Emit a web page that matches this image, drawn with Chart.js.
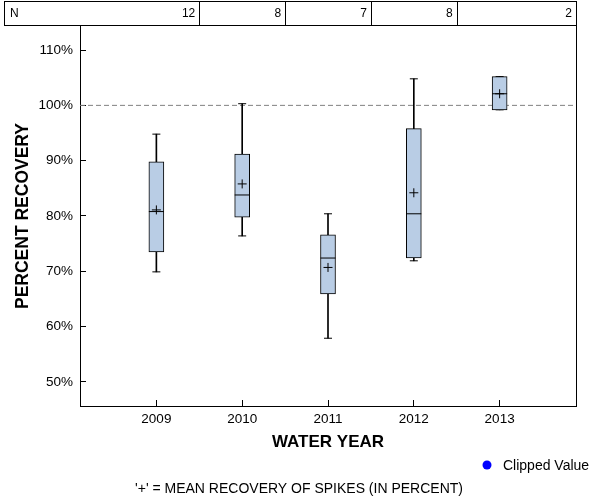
<!DOCTYPE html>
<html>
<head>
<meta charset="utf-8">
<script src="https://cdn.jsdelivr.net/npm/chart.js@4.4.1/dist/chart.umd.min.js"></script>
<style>
  html, body { margin: 0; padding: 0; background: #fff; }
</style>
</head>
<body>
<canvas id="boxChart" width="600" height="500"></canvas>
<script>
// Box plot values (percent recovery)
const years = [2009, 2010, 2011, 2012, 2013];
const nCounts = [12, 8, 7, 8, 2];
const whiskerLow = [69.9, 76.4, 57.9, 71.9, 99.2];
const q1 = [73.5, 79.8, 65.9, 72.4, 99.2];
const median = [80.8, 83.8, 72.4, 80.4, 102.1];
const mean = [81.1, 85.8, 70.7, 84.2, 102.1];
const q3 = [89.8, 91.2, 76.6, 95.8, 105.2];
const whiskerHigh = [94.8, 100.3, 80.4, 104.8, 105.2];
const yTicks = [50, 60, 70, 80, 90, 100, 110];
const referenceLine = 100;

const FONT = '"Liberation Sans", Arial, sans-serif';
const boxFill = '#b9cde5';

const xMin = 2008.11, xMax = 2013.89;

function pts(values) {
    return years.map((yr, i) => ({ x: yr, y: values[i] }));
}

// N table above the plot, right border, legend and footer note
const extras = {
    id: 'extras',
    afterDraw(chart) {
        const ctx = chart.ctx;
        const xs = chart.scales.x;
        const area = chart.chartArea;
        const right = Math.round(area.right) + 0.5;
        ctx.save();
        ctx.strokeStyle = '#000';
        ctx.lineWidth = 1;

        // table frame
        ctx.strokeRect(4.5, 1.5, right - 4.5, 24);
        years.slice(0, -1).forEach(yr => {
            const px = Math.round(xs.getPixelForValue(yr + 0.5)) + 0.5;
            ctx.beginPath();
            ctx.moveTo(px, 1.5);
            ctx.lineTo(px, 25.5);
            ctx.stroke();
        });
        // right border of the plot
        ctx.beginPath();
        ctx.moveTo(right, 25.5);
        ctx.lineTo(right, Math.round(area.bottom) + 0.5);
        ctx.stroke();

        ctx.fillStyle = '#000';
        ctx.font = '12px ' + FONT;
        ctx.textBaseline = 'middle';
        ctx.textAlign = 'left';
        ctx.fillText('N', 10, 14);
        ctx.textAlign = 'right';
        years.forEach((yr, i) => {
            const cellRight = i < years.length - 1 ? xs.getPixelForValue(yr + 0.5) : area.right;
            ctx.fillText(String(nCounts[i]), cellRight - 4, 14);
        });

        // legend entry
        const clipped = chart.data.datasets.find(d => d.label === 'Clipped Value');
        ctx.fillStyle = clipped.backgroundColor;
        ctx.beginPath();
        ctx.arc(487, 465, 4.5, 0, Math.PI * 2);
        ctx.fill();
        ctx.fillStyle = '#000';
        ctx.textAlign = 'left';
        ctx.font = '14px ' + FONT;
        ctx.fillText(clipped.label, 503, 466);

        // footer note
        ctx.textAlign = 'center';
        ctx.fillText("'+' = MEAN RECOVERY OF SPIKES (IN PERCENT)", 299, 489);
        ctx.restore();
    }
};

new Chart(document.getElementById('boxChart'), {
    type: 'bar',
    data: {
        datasets: [
            {
                type: 'line',
                label: 'ref',
                data: [{ x: xMin, y: referenceLine }, { x: xMax, y: referenceLine }],
                borderColor: '#808080',
                borderWidth: 1,
                borderDash: [5, 3],
                pointRadius: 0,
                order: 6
            },
            {
                label: 'upper whisker',
                data: years.map((yr, i) => ({ x: yr, y: [q3[i], whiskerHigh[i]] })),
                backgroundColor: '#000',
                borderWidth: 0,
                barThickness: 1,
                grouped: false,
                order: 5
            },
            {
                label: 'lower whisker',
                data: years.map((yr, i) => ({ x: yr, y: [whiskerLow[i], q1[i]] })),
                backgroundColor: '#000',
                borderWidth: 0,
                barThickness: 1,
                grouped: false,
                order: 5
            },
            {
                type: 'scatter',
                label: 'caps',
                data: pts(whiskerHigh).concat(pts(whiskerLow)),
                pointStyle: 'line',
                radius: 4,
                borderColor: '#000',
                borderWidth: 1,
                order: 4
            },
            {
                label: 'box',
                data: years.map((yr, i) => ({ x: yr, y: [q1[i], q3[i]] })),
                backgroundColor: boxFill,
                borderColor: '#000',
                borderWidth: 1,
                borderSkipped: false,
                barThickness: 15,
                grouped: false,
                order: 3
            },
            {
                type: 'scatter',
                label: 'median',
                data: pts(median),
                pointStyle: 'line',
                radius: 7.5,
                borderColor: '#000',
                borderWidth: 1,
                order: 2
            },
            {
                type: 'scatter',
                label: 'mean',
                data: pts(mean),
                pointStyle: 'cross',
                radius: 4.5,
                borderColor: '#000',
                borderWidth: 1,
                order: 1
            },
            {
                type: 'scatter',
                label: 'Clipped Value',
                data: [],
                backgroundColor: '#0000ff',
                borderColor: '#0000ff',
                pointStyle: 'circle',
                order: 0
            }
        ]
    },
    options: {
        responsive: false,
        animation: false,
        layout: { padding: { top: 26, right: 24, left: 0, bottom: 0 } },
        plugins: {
            legend: { display: false },
            tooltip: { enabled: false }
        },
        scales: {
            x: {
                type: 'linear',
                min: xMin,
                max: xMax,
                offset: false,
                afterFit: s => { s.height = 94; },
                afterBuildTicks: s => { s.ticks = years.map(v => ({ value: v })); },
                ticks: {
                    color: '#000',
                    font: { family: FONT, size: 13.5 },
                    padding: 11,
                    maxRotation: 0,
                    callback: v => String(v)
                },
                grid: { drawOnChartArea: false, offset: false, tickLength: -6, color: '#000' },
                border: { display: true, color: '#000', width: 1 },
                title: {
                    display: true,
                    text: 'WATER YEAR',
                    color: '#000',
                    font: { family: FONT, size: 17, weight: 'bold' },
                    padding: { top: 0, bottom: 47 }
                }
            },
            y: {
                min: 45.65,
                max: 114.35,
                afterFit: s => { s.width = 80; },
                afterBuildTicks: s => { s.ticks = yTicks.map(v => ({ value: v })); },
                ticks: {
                    color: '#000',
                    font: { family: FONT, size: 13.5 },
                    padding: 13,
                    callback: v => v + '%'
                },
                grid: { drawOnChartArea: false, tickLength: -6, color: '#000' },
                border: { display: true, color: '#000', width: 1 },
                title: {
                    display: true,
                    text: 'PERCENT RECOVERY',
                    color: '#000',
                    font: { family: FONT, size: 17.5, weight: 'bold' },
                    padding: { top: 13, bottom: 0 }
                }
            }
        }
    },
    plugins: [extras]
});
</script>
</body>
</html>
